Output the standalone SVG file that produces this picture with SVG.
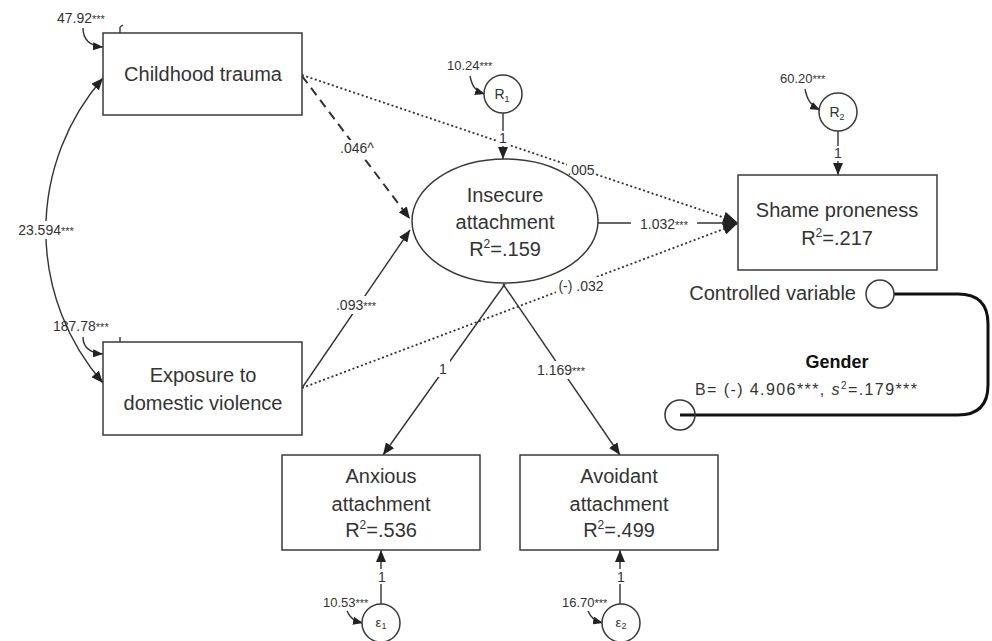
<svg xmlns="http://www.w3.org/2000/svg" width="992" height="641" viewBox="0 0 992 641">
<defs>
<style>
.box{fill:#fff;stroke:#3a3a3a;stroke-width:1.5}
.t{font-family:"Liberation Sans",Arial,sans-serif;font-size:20px;fill:#333;text-anchor:middle}
.lb{font-family:"Liberation Sans",Arial,sans-serif;font-size:14px;fill:#333;text-anchor:middle}
.sm{font-family:"Liberation Sans",Arial,sans-serif;font-size:13px;fill:#333}
.st{font-size:11px}
.ln{fill:none;stroke:#333;stroke-width:1.4}
.dot{fill:none;stroke:#333;stroke-width:1.8;stroke-dasharray:2 2.5}
.dash{fill:none;stroke:#333;stroke-width:2;stroke-dasharray:9 6}
.bg{fill:#fff}
</style>
<marker id="ah" viewBox="0 0 12 10" refX="12" refY="5" markerWidth="12" markerHeight="10" markerUnits="userSpaceOnUse" orient="auto-start-reverse"><path d="M0,0 L12,5 L0,10 z" fill="#222"/></marker>
<marker id="ahb" viewBox="0 0 14 12" refX="14" refY="6" markerWidth="14" markerHeight="12" markerUnits="userSpaceOnUse" orient="auto"><path d="M0,0 L14,6 L0,12 z" fill="#222"/></marker>
<marker id="ahs" viewBox="0 0 10 8" refX="10" refY="4" markerWidth="10" markerHeight="8" markerUnits="userSpaceOnUse" orient="auto"><path d="M0,0 L10,4 L0,8 z" fill="#222"/></marker>
</defs>
<rect width="992" height="641" fill="#fff"/>

<g id="connectors">
<path class="ln" d="M103,78 A232,232 0 0 0 103,383" marker-start="url(#ah)" marker-end="url(#ah)"/>
<path class="dot" d="M302,75 L737,222" marker-end="url(#ahb)"/>
<path class="dot" d="M302,388 L737,224" marker-end="url(#ahb)"/>
<path class="ln" d="M597,223 L738,223" marker-end="url(#ahb)"/>
<path class="dash" d="M302,76 L410,219" marker-end="url(#ah)"/>
<path class="ln" d="M302,388 L410,230" marker-end="url(#ah)"/>
<path class="ln" d="M503,113 L503,159" marker-end="url(#ah)"/>
<path class="ln" d="M838,131 L838,175" marker-end="url(#ah)"/>
<path class="ln" d="M505,284 L383,455" marker-end="url(#ah)"/>
<path class="ln" d="M503,284 L620,455" marker-end="url(#ah)"/>
<path class="ln" d="M381,604 L381,550" marker-end="url(#ah)"/>
<path class="ln" d="M620,604 L620,550" marker-end="url(#ah)"/>
<path class="ln" d="M83,28 C83,40 90,46 103,47" marker-end="url(#ahs)"/>
<path class="ln" d="M120,27 L120,33 M120,27 L123,25"/>
<path class="ln" d="M83,337 C83,348 90,353 103,354" marker-end="url(#ahs)"/>
<path class="ln" d="M120,337 L120,342"/>
<path class="ln" d="M470,76 C472,86 475,91 485,94" marker-end="url(#ahs)"/>
<path class="ln" d="M805,89 C807,99 810,105 820,110" marker-end="url(#ahs)"/>
<path class="ln" d="M347,611 C350,618 354,621 363,623" marker-end="url(#ahs)"/>
<path class="ln" d="M588,611 C591,618 595,621 603,623" marker-end="url(#ahs)"/>
<path fill="none" stroke="#111" stroke-width="3" d="M894,294 H958 Q988,294 988,324 V385 Q988,415 958,415 H680"/>

<rect class="bg" x="10" y="221" width="74" height="18"/>
<text class="lb" x="46" y="235">23.594<tspan class="st">***</tspan></text>
<rect class="bg" x="337" y="140" width="40" height="17"/>
<text class="lb" x="357" y="153">.046^</text>
<rect class="bg" x="327" y="296" width="58" height="18"/>
<text class="lb" x="356" y="310">.093<tspan class="st">***</tspan></text>
<rect class="bg" x="631" y="215" width="66" height="18"/>
<text class="lb" x="664" y="229">1.032<tspan class="st">***</tspan></text>
<rect class="bg" x="567" y="162" width="28" height="16"/>
<text class="lb" x="581" y="175">.005</text>
<rect class="bg" x="556" y="277" width="50" height="17"/>
<text class="lb" x="581" y="291">(-) .032</text>
<rect class="bg" x="437" y="360" width="13" height="17"/>
<text class="lb" x="443" y="374">1</text>
<rect class="bg" x="528" y="361" width="66" height="18"/>
<text class="lb" x="561" y="375">1.169<tspan class="st">***</tspan></text>
<rect class="bg" x="497" y="131" width="12" height="15"/>
<text class="lb" x="503" y="143">1</text>
<rect class="bg" x="832" y="146" width="12" height="15"/>
<text class="lb" x="838" y="158">1</text>
<rect class="bg" x="376" y="569" width="12" height="15"/>
<text class="lb" x="382" y="582">1</text>
<rect class="bg" x="615" y="569" width="12" height="15"/>
<text class="lb" x="621" y="582">1</text>
<text class="sm" x="57" y="23" style="font-size:14px">47.92<tspan class="st">***</tspan></text>
<text class="sm" x="53" y="331" style="font-size:14px">187.78<tspan class="st">***</tspan></text>
<text class="sm" x="447" y="70">10.24<tspan class="st">***</tspan></text>
<text class="sm" x="780" y="83">60.20<tspan class="st">***</tspan></text>
<text class="sm" x="323" y="607">10.53<tspan class="st">***</tspan></text>
<text class="sm" x="562" y="607">16.70<tspan class="st">***</tspan></text>
</g>

<g id="childhood-trauma">
<rect class="box" x="103" y="33" width="199" height="82"/>
<text class="t" x="203" y="81">Childhood trauma</text>
</g>
<g id="exposure">
<rect class="box" x="103" y="342" width="199" height="93"/>
<text class="t" x="203" y="382">Exposure to</text>
<text class="t" x="203" y="410">domestic violence</text>
</g>
<g id="insecure-attachment">
<ellipse class="box" cx="505" cy="221" rx="93" ry="62"/>
<text class="t" x="505" y="202">Insecure</text>
<text class="t" x="505" y="229">attachment</text>
<text class="t" x="505" y="256">R<tspan style="font-size:12px" dy="-8">2</tspan><tspan dy="8">=.159</tspan></text>
</g>
<g id="shame-proneness">
<rect class="box" x="738" y="175" width="199" height="95"/>
<text class="t" x="837" y="217">Shame proneness</text>
<text class="t" x="837" y="245">R<tspan style="font-size:12px" dy="-8">2</tspan><tspan dy="8">=.217</tspan></text>
</g>
<g id="anxious-attachment">
<rect class="box" x="282" y="455" width="198" height="95"/>
<text class="t" x="381" y="483">Anxious</text>
<text class="t" x="381" y="511">attachment</text>
<text class="t" x="381" y="537">R<tspan style="font-size:12px" dy="-8">2</tspan><tspan dy="8">=.536</tspan></text>
</g>
<g id="avoidant-attachment">
<rect class="box" x="520" y="455" width="198" height="95"/>
<text class="t" x="619" y="483">Avoidant</text>
<text class="t" x="619" y="511">attachment</text>
<text class="t" x="619" y="537">R<tspan style="font-size:12px" dy="-8">2</tspan><tspan dy="8">=.499</tspan></text>
</g>
<g id="R1">
<circle class="box" cx="503" cy="94" r="19"/>
<text class="sm" x="502" y="99" style="text-anchor:middle;font-size:14px">R<tspan style="font-size:9px" dy="3">1</tspan></text>
</g>
<g id="R2">
<circle class="box" cx="838" cy="112" r="19"/>
<text class="sm" x="837" y="117" style="text-anchor:middle;font-size:14px">R<tspan style="font-size:9px" dy="3">2</tspan></text>
</g>
<g id="e1">
<circle class="box" cx="381" cy="623" r="19"/>
<text class="sm" x="381" y="627" style="text-anchor:middle">ε<tspan style="font-size:9px" dy="2">1</tspan></text>
</g>
<g id="e2">
<circle class="box" cx="621" cy="623" r="19"/>
<text class="sm" x="621" y="627" style="text-anchor:middle">ε<tspan style="font-size:9px" dy="2">2</tspan></text>
</g>
<g id="controlled-variable">
<text class="t" x="856" y="300" style="text-anchor:end">Controlled variable</text>
<circle class="box" cx="880" cy="294" r="14"/>
</g>
<g id="gender">
<circle fill="none" stroke="#333" stroke-width="1.5" cx="680" cy="415" r="15"/>
<text class="t" x="837" y="368" style="font-size:18px;font-weight:bold;fill:#111">Gender</text>
<text class="sm" x="695" y="395" style="font-size:16px" textLength="222" lengthAdjust="spacing">B= (-) 4.906***, <tspan style="font-style:italic">s</tspan><tspan style="font-size:10px" dy="-6">2</tspan><tspan dy="6">=.179***</tspan></text>
</g>
</svg>
